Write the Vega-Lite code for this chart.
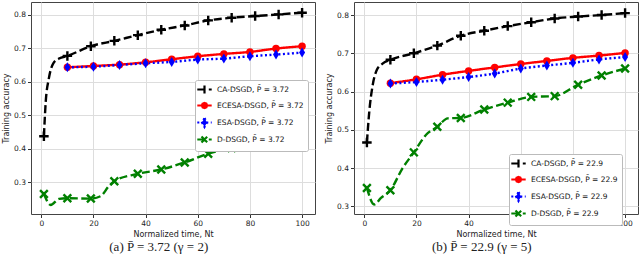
{
  "$schema": "https://vega.github.io/schema/vega-lite/v6.json",
  "padding": {"left": 2, "top": 1, "right": 0, "bottom": 0},
  "spacing": 9,
  "background": "white",
  "config": {
    "view": {"stroke": "#444444", "strokeWidth": 1},
    "axis": {"labelFont": "DejaVu Sans", "labelFontSize": 7.5, "titleFont": "DejaVu Sans", "titleFontSize": 8, "titleFontWeight": "normal", "gridColor": "#dddddd", "gridWidth": 1, "tickColor": "#333333", "tickSize": 3.5, "labelColor": "#222222", "titleColor": "#222222", "domain": false, "labelPadding": 2, "titlePadding": 3},
    "title": {"orient": "bottom", "anchor": "middle", "frame": "bounds", "font": "Liberation Serif", "fontSize": 13, "fontWeight": "normal", "color": "#222222", "offset": 3},
    "legend": {"labelFont": "DejaVu Sans", "labelFontSize": 7.5, "labelColor": "#111111", "symbolSize": 64, "symbolStrokeWidth": 2, "padding": 4, "strokeColor": "#bbbbbb", "fillColor": "white", "cornerRadius": 2, "labelOffset": 7, "rowPadding": 0}
  },
  "datasets": {
    "a": [
      {"s": "CA-DSGD, P\u0304 = 3.72", "x": 1, "y": 0.437, "m": 1},
      {"s": "CA-DSGD, P\u0304 = 3.72", "x": 1.7, "y": 0.54, "m": 0},
      {"s": "CA-DSGD, P\u0304 = 3.72", "x": 2.9, "y": 0.61, "m": 0},
      {"s": "CA-DSGD, P\u0304 = 3.72", "x": 4.6, "y": 0.655, "m": 0},
      {"s": "CA-DSGD, P\u0304 = 3.72", "x": 6.8, "y": 0.669, "m": 0},
      {"s": "CA-DSGD, P\u0304 = 3.72", "x": 10, "y": 0.677, "m": 1},
      {"s": "CA-DSGD, P\u0304 = 3.72", "x": 19, "y": 0.706, "m": 1},
      {"s": "CA-DSGD, P\u0304 = 3.72", "x": 28, "y": 0.722, "m": 1},
      {"s": "CA-DSGD, P\u0304 = 3.72", "x": 37, "y": 0.739, "m": 1},
      {"s": "CA-DSGD, P\u0304 = 3.72", "x": 46, "y": 0.755, "m": 1},
      {"s": "CA-DSGD, P\u0304 = 3.72", "x": 55, "y": 0.768, "m": 1},
      {"s": "CA-DSGD, P\u0304 = 3.72", "x": 64, "y": 0.783, "m": 1},
      {"s": "CA-DSGD, P\u0304 = 3.72", "x": 73, "y": 0.791, "m": 1},
      {"s": "CA-DSGD, P\u0304 = 3.72", "x": 82, "y": 0.796, "m": 1},
      {"s": "CA-DSGD, P\u0304 = 3.72", "x": 91, "y": 0.801, "m": 1},
      {"s": "CA-DSGD, P\u0304 = 3.72", "x": 100, "y": 0.806, "m": 1},
      {"s": "ECESA-DSGD, P\u0304 = 3.72", "x": 10, "y": 0.643, "m": 1},
      {"s": "ECESA-DSGD, P\u0304 = 3.72", "x": 20, "y": 0.647, "m": 1},
      {"s": "ECESA-DSGD, P\u0304 = 3.72", "x": 30, "y": 0.651, "m": 1},
      {"s": "ECESA-DSGD, P\u0304 = 3.72", "x": 40, "y": 0.658, "m": 1},
      {"s": "ECESA-DSGD, P\u0304 = 3.72", "x": 50, "y": 0.667, "m": 1},
      {"s": "ECESA-DSGD, P\u0304 = 3.72", "x": 60, "y": 0.676, "m": 1},
      {"s": "ECESA-DSGD, P\u0304 = 3.72", "x": 70, "y": 0.683, "m": 1},
      {"s": "ECESA-DSGD, P\u0304 = 3.72", "x": 80, "y": 0.689, "m": 1},
      {"s": "ECESA-DSGD, P\u0304 = 3.72", "x": 90, "y": 0.699, "m": 1},
      {"s": "ECESA-DSGD, P\u0304 = 3.72", "x": 100, "y": 0.706, "m": 1},
      {"s": "ESA-DSGD, P\u0304 = 3.72", "x": 10, "y": 0.643, "m": 1},
      {"s": "ESA-DSGD, P\u0304 = 3.72", "x": 20, "y": 0.645, "m": 1},
      {"s": "ESA-DSGD, P\u0304 = 3.72", "x": 30, "y": 0.65, "m": 1},
      {"s": "ESA-DSGD, P\u0304 = 3.72", "x": 40, "y": 0.655, "m": 1},
      {"s": "ESA-DSGD, P\u0304 = 3.72", "x": 50, "y": 0.659, "m": 1},
      {"s": "ESA-DSGD, P\u0304 = 3.72", "x": 60, "y": 0.666, "m": 1},
      {"s": "ESA-DSGD, P\u0304 = 3.72", "x": 70, "y": 0.669, "m": 1},
      {"s": "ESA-DSGD, P\u0304 = 3.72", "x": 80, "y": 0.676, "m": 1},
      {"s": "ESA-DSGD, P\u0304 = 3.72", "x": 90, "y": 0.681, "m": 1},
      {"s": "ESA-DSGD, P\u0304 = 3.72", "x": 100, "y": 0.687, "m": 1},
      {"s": "D-DSGD, P\u0304 = 3.72", "x": 1, "y": 0.265, "m": 1},
      {"s": "D-DSGD, P\u0304 = 3.72", "x": 3.6, "y": 0.232, "m": 0},
      {"s": "D-DSGD, P\u0304 = 3.72", "x": 6.8, "y": 0.25, "m": 0},
      {"s": "D-DSGD, P\u0304 = 3.72", "x": 10, "y": 0.252, "m": 1},
      {"s": "D-DSGD, P\u0304 = 3.72", "x": 19, "y": 0.251, "m": 1},
      {"s": "D-DSGD, P\u0304 = 3.72", "x": 22.7, "y": 0.258, "m": 0},
      {"s": "D-DSGD, P\u0304 = 3.72", "x": 25.9, "y": 0.288, "m": 0},
      {"s": "D-DSGD, P\u0304 = 3.72", "x": 28, "y": 0.303, "m": 1},
      {"s": "D-DSGD, P\u0304 = 3.72", "x": 37, "y": 0.325, "m": 1},
      {"s": "D-DSGD, P\u0304 = 3.72", "x": 46, "y": 0.338, "m": 1},
      {"s": "D-DSGD, P\u0304 = 3.72", "x": 55, "y": 0.359, "m": 1},
      {"s": "D-DSGD, P\u0304 = 3.72", "x": 64, "y": 0.385, "m": 1},
      {"s": "D-DSGD, P\u0304 = 3.72", "x": 73, "y": 0.402, "m": 1},
      {"s": "D-DSGD, P\u0304 = 3.72", "x": 82, "y": 0.414, "m": 1},
      {"s": "D-DSGD, P\u0304 = 3.72", "x": 91, "y": 0.414, "m": 1},
      {"s": "D-DSGD, P\u0304 = 3.72", "x": 100, "y": 0.426, "m": 1}
    ],
    "b": [
      {"s": "CA-DSGD, P\u0304 = 22.9", "x": 1, "y": 0.467, "m": 1},
      {"s": "CA-DSGD, P\u0304 = 22.9", "x": 1.9, "y": 0.547, "m": 0},
      {"s": "CA-DSGD, P\u0304 = 22.9", "x": 3.2, "y": 0.616, "m": 0},
      {"s": "CA-DSGD, P\u0304 = 22.9", "x": 4.7, "y": 0.655, "m": 0},
      {"s": "CA-DSGD, P\u0304 = 22.9", "x": 7, "y": 0.673, "m": 0},
      {"s": "CA-DSGD, P\u0304 = 22.9", "x": 10, "y": 0.683, "m": 1},
      {"s": "CA-DSGD, P\u0304 = 22.9", "x": 19, "y": 0.7, "m": 1},
      {"s": "CA-DSGD, P\u0304 = 22.9", "x": 28, "y": 0.72, "m": 1},
      {"s": "CA-DSGD, P\u0304 = 22.9", "x": 37, "y": 0.746, "m": 1},
      {"s": "CA-DSGD, P\u0304 = 22.9", "x": 46, "y": 0.759, "m": 1},
      {"s": "CA-DSGD, P\u0304 = 22.9", "x": 55, "y": 0.771, "m": 1},
      {"s": "CA-DSGD, P\u0304 = 22.9", "x": 64, "y": 0.781, "m": 1},
      {"s": "CA-DSGD, P\u0304 = 22.9", "x": 73, "y": 0.791, "m": 1},
      {"s": "CA-DSGD, P\u0304 = 22.9", "x": 82, "y": 0.796, "m": 1},
      {"s": "CA-DSGD, P\u0304 = 22.9", "x": 91, "y": 0.8, "m": 1},
      {"s": "CA-DSGD, P\u0304 = 22.9", "x": 100, "y": 0.805, "m": 1},
      {"s": "ECESA-DSGD, P\u0304 = 22.9", "x": 10, "y": 0.622, "m": 1},
      {"s": "ECESA-DSGD, P\u0304 = 22.9", "x": 20, "y": 0.632, "m": 1},
      {"s": "ECESA-DSGD, P\u0304 = 22.9", "x": 30, "y": 0.644, "m": 1},
      {"s": "ECESA-DSGD, P\u0304 = 22.9", "x": 40, "y": 0.654, "m": 1},
      {"s": "ECESA-DSGD, P\u0304 = 22.9", "x": 50, "y": 0.663, "m": 1},
      {"s": "ECESA-DSGD, P\u0304 = 22.9", "x": 60, "y": 0.672, "m": 1},
      {"s": "ECESA-DSGD, P\u0304 = 22.9", "x": 70, "y": 0.68, "m": 1},
      {"s": "ECESA-DSGD, P\u0304 = 22.9", "x": 80, "y": 0.688, "m": 1},
      {"s": "ECESA-DSGD, P\u0304 = 22.9", "x": 90, "y": 0.694, "m": 1},
      {"s": "ECESA-DSGD, P\u0304 = 22.9", "x": 100, "y": 0.701, "m": 1},
      {"s": "ESA-DSGD, P\u0304 = 22.9", "x": 10, "y": 0.621, "m": 1},
      {"s": "ESA-DSGD, P\u0304 = 22.9", "x": 20, "y": 0.625, "m": 1},
      {"s": "ESA-DSGD, P\u0304 = 22.9", "x": 30, "y": 0.631, "m": 1},
      {"s": "ESA-DSGD, P\u0304 = 22.9", "x": 40, "y": 0.638, "m": 1},
      {"s": "ESA-DSGD, P\u0304 = 22.9", "x": 50, "y": 0.647, "m": 1},
      {"s": "ESA-DSGD, P\u0304 = 22.9", "x": 60, "y": 0.66, "m": 1},
      {"s": "ESA-DSGD, P\u0304 = 22.9", "x": 70, "y": 0.668, "m": 1},
      {"s": "ESA-DSGD, P\u0304 = 22.9", "x": 80, "y": 0.675, "m": 1},
      {"s": "ESA-DSGD, P\u0304 = 22.9", "x": 90, "y": 0.684, "m": 1},
      {"s": "ESA-DSGD, P\u0304 = 22.9", "x": 100, "y": 0.69, "m": 1},
      {"s": "D-DSGD, P\u0304 = 22.9", "x": 1, "y": 0.348, "m": 1},
      {"s": "D-DSGD, P\u0304 = 22.9", "x": 3.8, "y": 0.305, "m": 0},
      {"s": "D-DSGD, P\u0304 = 22.9", "x": 6.4, "y": 0.322, "m": 0},
      {"s": "D-DSGD, P\u0304 = 22.9", "x": 10, "y": 0.342, "m": 1},
      {"s": "D-DSGD, P\u0304 = 22.9", "x": 14.7, "y": 0.4, "m": 0},
      {"s": "D-DSGD, P\u0304 = 22.9", "x": 19, "y": 0.441, "m": 1},
      {"s": "D-DSGD, P\u0304 = 22.9", "x": 23.7, "y": 0.487, "m": 0},
      {"s": "D-DSGD, P\u0304 = 22.9", "x": 28, "y": 0.508, "m": 1},
      {"s": "D-DSGD, P\u0304 = 22.9", "x": 32, "y": 0.53, "m": 0},
      {"s": "D-DSGD, P\u0304 = 22.9", "x": 37, "y": 0.531, "m": 1},
      {"s": "D-DSGD, P\u0304 = 22.9", "x": 46, "y": 0.553, "m": 1},
      {"s": "D-DSGD, P\u0304 = 22.9", "x": 55, "y": 0.571, "m": 1},
      {"s": "D-DSGD, P\u0304 = 22.9", "x": 64, "y": 0.586, "m": 1},
      {"s": "D-DSGD, P\u0304 = 22.9", "x": 73, "y": 0.588, "m": 1},
      {"s": "D-DSGD, P\u0304 = 22.9", "x": 82, "y": 0.618, "m": 1},
      {"s": "D-DSGD, P\u0304 = 22.9", "x": 91, "y": 0.642, "m": 1},
      {"s": "D-DSGD, P\u0304 = 22.9", "x": 100, "y": 0.66, "m": 1}
    ]
  },
  "resolve": {
    "scale": {"color": "independent", "strokeDash": "independent", "x": "independent", "y": "independent"},
    "legend": {"color": "independent"}
  },
  "hconcat": [
    {
      "width": 284,
      "height": 212,
      "data": {"name": "a"},
      "title": {"text": "(a) P\u0304 = 3.72 (\u03b3 = 2)"},
      "encoding": {
        "x": {"field": "x", "type": "quantitative", "scale": {"domain": [-3.95, 104.95], "nice": false, "zero": false}, "axis": {"values": [0, 20, 40, 60, 80, 100], "title": "Normalized time, Nt"}},
        "y": {"field": "y", "type": "quantitative", "scale": {"domain": [0.205, 0.838], "nice": false, "zero": false}, "axis": {"values": [0.3, 0.4, 0.5, 0.6, 0.7, 0.8], "format": ".1f", "title": "Training accuracy"}}
      },
      "layer": [
        {
          "mark": {"type": "line", "strokeWidth": 2.4, "interpolate": "monotone"},
          "encoding": {
            "color": {"field": "s", "type": "nominal", "scale": {"domain": ["CA-DSGD, P\u0304 = 3.72", "ECESA-DSGD, P\u0304 = 3.72", "ESA-DSGD, P\u0304 = 3.72", "D-DSGD, P\u0304 = 3.72"], "range": ["#000000", "#ff0000", "#0000ff", "#008000"]},
              "legend": {"title": null, "orient": "none", "legendX": 164, "legendY": 78,
                "encode": {"symbols": {"update": {
                  "shape": {"signal": "datum.index === 0 ? 'M-1.8,0H1.8M0,-1V1' : datum.index === 1 ? 'M-1.8,0H1.8M0.65,0L0.46,0.46L0,0.65L-0.46,0.46L-0.65,0L-0.46,-0.46L0,-0.65L0.46,-0.46Z' : datum.index === 2 ? 'M-1.8,0H1.8M0,-1.1L0.62,0L0,1.1L-0.62,0Z' : 'M-1.8,0H1.8M-0.75,-0.75L0.75,0.75M-0.75,0.75L0.75,-0.75'"},
                  "strokeWidth": {"value": 2.2},
                  "fill": {"signal": "datum.index === 1 ? '#ff0000' : datum.index === 2 ? '#0000ff' : 'transparent'"},
                  "fillOpacity": {"value": 1}
                }}}}},
            "strokeDash": {"field": "s", "type": "nominal", "scale": {"domain": ["CA-DSGD, P\u0304 = 3.72", "ECESA-DSGD, P\u0304 = 3.72", "ESA-DSGD, P\u0304 = 3.72", "D-DSGD, P\u0304 = 3.72"], "range": [[8, 3.5], [1, 0], [2, 2.5], [8, 3.5]]}, "legend": null}
          }
        },
        {"transform": [{"filter": {"and": [{"field": "s", "equal": "CA-DSGD, P\u0304 = 3.72"}, {"field": "m", "equal": 1}]}}], "mark": {"type": "point", "shape": "M-1,0H1M0,-1V1", "size": 90, "strokeWidth": 2.4, "color": "#000000", "filled": false, "opacity": 1}},
        {"transform": [{"filter": {"field": "s", "equal": "ECESA-DSGD, P\u0304 = 3.72"}}], "mark": {"type": "point", "shape": "circle", "size": 55, "strokeWidth": 1.5, "color": "#ff0000", "filled": true, "opacity": 1}},
        {"transform": [{"filter": {"field": "s", "equal": "ESA-DSGD, P\u0304 = 3.72"}}], "mark": {"type": "point", "shape": "M0,-1L0.6,0L0,1L-0.6,0Z", "size": 100, "strokeWidth": 1, "color": "#0000ff", "filled": true, "opacity": 1}},
        {"transform": [{"filter": {"and": [{"field": "s", "equal": "D-DSGD, P\u0304 = 3.72"}, {"field": "m", "equal": 1}]}}], "mark": {"type": "point", "shape": "M-1,-1L1,1M-1,1L1,-1", "size": 60, "strokeWidth": 2.4, "color": "#008000", "filled": false, "opacity": 1}}
      ]
    },
    {
      "width": 284,
      "height": 212,
      "data": {"name": "b"},
      "title": {"text": "(b) P\u0304 = 22.9 (\u03b3 = 5)"},
      "encoding": {
        "x": {"field": "x", "type": "quantitative", "scale": {"domain": [-3.95, 104.95], "nice": false, "zero": false}, "axis": {"values": [0, 20, 40, 60, 80, 100], "title": "Normalized time, Nt"}},
        "y": {"field": "y", "type": "quantitative", "scale": {"domain": [0.28, 0.834], "nice": false, "zero": false}, "axis": {"values": [0.3, 0.4, 0.5, 0.6, 0.7, 0.8], "format": ".1f", "title": "Training accuracy"}}
      },
      "layer": [
        {
          "mark": {"type": "line", "strokeWidth": 2.4, "interpolate": "monotone"},
          "encoding": {
            "color": {"field": "s", "type": "nominal", "scale": {"domain": ["CA-DSGD, P\u0304 = 22.9", "ECESA-DSGD, P\u0304 = 22.9", "ESA-DSGD, P\u0304 = 22.9", "D-DSGD, P\u0304 = 22.9"], "range": ["#000000", "#ff0000", "#0000ff", "#008000"]},
              "legend": {"title": null, "orient": "none", "legendX": 155, "legendY": 152,
                "encode": {"symbols": {"update": {
                  "shape": {"signal": "datum.index === 0 ? 'M-1.8,0H1.8M0,-1V1' : datum.index === 1 ? 'M-1.8,0H1.8M0.65,0L0.46,0.46L0,0.65L-0.46,0.46L-0.65,0L-0.46,-0.46L0,-0.65L0.46,-0.46Z' : datum.index === 2 ? 'M-1.8,0H1.8M0,-1.1L0.62,0L0,1.1L-0.62,0Z' : 'M-1.8,0H1.8M-0.75,-0.75L0.75,0.75M-0.75,0.75L0.75,-0.75'"},
                  "strokeWidth": {"value": 2.2},
                  "fill": {"signal": "datum.index === 1 ? '#ff0000' : datum.index === 2 ? '#0000ff' : 'transparent'"},
                  "fillOpacity": {"value": 1}
                }}}}},
            "strokeDash": {"field": "s", "type": "nominal", "scale": {"domain": ["CA-DSGD, P\u0304 = 22.9", "ECESA-DSGD, P\u0304 = 22.9", "ESA-DSGD, P\u0304 = 22.9", "D-DSGD, P\u0304 = 22.9"], "range": [[8, 3.5], [1, 0], [2, 2.5], [8, 3.5]]}, "legend": null}
          }
        },
        {"transform": [{"filter": {"and": [{"field": "s", "equal": "CA-DSGD, P\u0304 = 22.9"}, {"field": "m", "equal": 1}]}}], "mark": {"type": "point", "shape": "M-1,0H1M0,-1V1", "size": 90, "strokeWidth": 2.4, "color": "#000000", "filled": false, "opacity": 1}},
        {"transform": [{"filter": {"field": "s", "equal": "ECESA-DSGD, P\u0304 = 22.9"}}], "mark": {"type": "point", "shape": "circle", "size": 55, "strokeWidth": 1.5, "color": "#ff0000", "filled": true, "opacity": 1}},
        {"transform": [{"filter": {"field": "s", "equal": "ESA-DSGD, P\u0304 = 22.9"}}], "mark": {"type": "point", "shape": "M0,-1L0.6,0L0,1L-0.6,0Z", "size": 100, "strokeWidth": 1, "color": "#0000ff", "filled": true, "opacity": 1}},
        {"transform": [{"filter": {"and": [{"field": "s", "equal": "D-DSGD, P\u0304 = 22.9"}, {"field": "m", "equal": 1}]}}], "mark": {"type": "point", "shape": "M-1,-1L1,1M-1,1L1,-1", "size": 60, "strokeWidth": 2.4, "color": "#008000", "filled": false, "opacity": 1}}
      ]
    }
  ]
}
